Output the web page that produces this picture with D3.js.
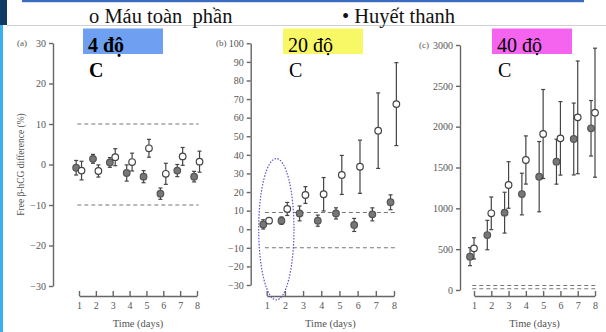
<!DOCTYPE html>
<html>
<head>
<meta charset="utf-8">
<script src="https://cdn.jsdelivr.net/npm/d3@7"></script>
<style>
  html, body { margin: 0; padding: 0; background: #fff; }
  svg { display: block; }
  .serif { font-family: "Liberation Serif", "DejaVu Serif", serif; }
  .tick line, .domain { stroke: #666; stroke-width: 1.4; }
</style>
</head>
<body>
<svg id="chart" width="606" height="332"></svg>
<script>
// Days of storage
const days = [1, 2, 3, 4, 5, 6, 7, 8];

// 4 °C: free β-hCG difference (%)
const serum4 = [-0.8, 1.4, 0.5, -2.1, -3.0, -7.2, -1.5, -3.0];
const serum4Err = [1.8, 1.1, 1.2, 2.0, 1.5, 1.4, 1.5, 1.3];
const whole4 = [-1.5, -1.6, 1.8, 0.6, 4.0, -2.3, 2.0, 0.7];
const whole4Err = [2.3, 1.5, 2.1, 2.2, 2.2, 2.6, 2.2, 2.6];

// 20 °C
const serum20 = [2.6, 4.6, 8.5, 4.6, 8.5, 2.3, 8.0, 14.5];
const serum20Err = [2.5, 2.0, 4.0, 3.0, 3.0, 3.5, 3.5, 4.0];
const whole20 = [4.6, 10.9, 18.4, 18.8, 29.2, 33.6, 53.0, 67.3];
const whole20Err = [1.5, 3.5, 4.5, 9.0, 10.5, 14.3, 20.3, 22.3];

// 40 °C
const serum40 = [408, 673, 947, 1175, 1388, 1571, 1849, 1980];
const serum40Err = [110, 180, 250, 255, 430, 275, 440, 340];
const whole40 = [510, 939, 1286, 1592, 1910, 1857, 2114, 2171];
const whole40Err = [130, 200, 285, 295, 545, 450, 690, 790];

// Axis ticks and reference limits
const ticksA = [-30, -20, -10, 0, 10, 20, 30];
const ticksB = [-30, -20, -10, 0, 10, 20, 30, 40, 50, 60, 70, 80, 90, 100];
const ticksC = [0, 500, 1000, 1500, 2000, 2500, 3000];
const limitsA = [10, -10];
const limitsB = [9, -10];
const limitsC = [55, 15];

const legendWhole = "o Máu toàn  phần";
const legendSerum = "• Huyết thanh";
const tempLabels = ["4 độ", "20 độ", "40 độ"];

const SERIF = "Liberation Serif, DejaVu Serif, serif";
const svg = d3.select("#chart");

// Slide frame
svg.append("rect").attr("x", 0).attr("y", 0).attr("width", 7).attr("height", 25).attr("fill", "#0e3a63");
svg.append("rect").attr("x", 22).attr("y", 0).attr("width", 562).attr("height", 2.2).attr("fill", "#3b6cc0");
svg.append("line").attr("x1", 7).attr("x2", 606).attr("y1", 25.5).attr("y2", 25.5).attr("stroke", "#cfcfcf");
svg.append("rect").attr("x", 0).attr("y", 25).attr("width", 3).attr("height", 307).attr("fill", "#3ab0ee");

// Legend line
svg.append("text").attr("class", "serif").attr("x", 89).attr("y", 23)
  .style("white-space", "pre").attr("font-size", 20.5).attr("fill", "#111").text(legendWhole);
svg.append("text").attr("class", "serif").attr("x", 342).attr("y", 23)
  .attr("font-size", 20.5).attr("fill", "#111").text(legendSerum);

const panels = [
  { tag: "(a)", tagX: 17, x0: 79, x1: 197, yr: [286, 43], dom: [-30, 30], ticks: ticksA, limits: limitsA,
    serum: serum4, serumErr: serum4Err, whole: whole4, wholeErr: whole4Err,
    offS: -0.17, offW: 0.15, box: "#6e9ff0", boxX: 83, label: tempLabels[0], bold: true },
  { tag: "(b)", tagX: 216, x0: 266.7, x1: 394, yr: [285, 43.3], dom: [-30, 100], ticks: ticksB, limits: limitsB,
    serum: serum20, serumErr: serum20Err, whole: whole20, wholeErr: whole20Err,
    offS: -0.19, offW: 0.13, box: "#f8f866", boxX: 283, label: tempLabels[1], bold: false },
  { tag: "(c)", tagX: 419, x0: 474, x1: 595, yr: [290, 45], dom: [0, 3000], ticks: ticksC, limits: limitsC,
    serum: serum40, serumErr: serum40Err, whole: whole40, wholeErr: whole40Err,
    offS: -0.23, offW: 0.0, box: "#f564ef", boxX: 492, label: tempLabels[2], bold: false }
];

const styleAxis = sel => sel.attr("font-family", SERIF).attr("font-size", 10)
  .call(s => s.selectAll(".tick text").attr("fill", "#555"));

panels.forEach((p, i) => {
  const g = svg.append("g");
  const x = d3.scaleLinear().domain([1, 8]).range([p.x0, p.x1]);
  const y = d3.scaleLinear().domain(p.dom).range(p.yr);
  const yAxisX = p.x0 - (i === 0 ? 26 : i === 1 ? 16 : 14);

  // y axis
  g.append("g").attr("transform", `translate(${yAxisX},0)`)
    .call(d3.axisLeft(y).tickValues(p.ticks).tickFormat(d3.format("d"))
      .tickSize(4).tickSizeOuter(0).tickPadding(3))
    .call(styleAxis);

  // x axis with ticks pointing up
  g.append("g").attr("transform", "translate(0,296)")
    .call(d3.axisBottom(x).tickValues(days).tickFormat(d3.format("d"))
      .tickSize(-5).tickSizeOuter(0).tickPadding(6))
    .call(styleAxis);

  g.append("text").attr("x", (p.x0 + p.x1) / 2).attr("y", 327)
    .attr("font-family", SERIF)
    .attr("text-anchor", "middle").attr("font-size", 10.5).attr("fill", "#555").text("Time (days)");

  g.append("text").attr("x", p.tagX).attr("y", y(p.dom[1]) + 3)
    .attr("font-family", SERIF)
    .attr("font-size", 9).attr("fill", "#555").text(p.tag);

  // reference limits
  g.selectAll(".lim").data(p.limits).join("line")
    .attr("x1", x(0.9)).attr("x2", x(8.1))
    .attr("y1", d => y(d)).attr("y2", d => y(d))
    .attr("stroke", "#777").attr("stroke-width", 1.1).attr("stroke-dasharray", "4,3");

  const drawSeries = (vals, errs, off, open) => {
    const pts = days.map((d, k) => ({ d, v: vals[k], e: errs[k] }));
    const cx = d => x(d.d + off);
    g.selectAll(null).data(pts).join("line")
      .attr("x1", cx).attr("x2", cx)
      .attr("y1", d => y(d.v - d.e)).attr("y2", d => y(d.v + d.e))
      .attr("stroke", "#444").attr("stroke-width", 1.2);
    [-1, 1].forEach(s => {
      g.selectAll(null).data(pts).join("line")
        .attr("x1", d => cx(d) - 2).attr("x2", d => cx(d) + 2)
        .attr("y1", d => y(d.v + s * d.e)).attr("y2", d => y(d.v + s * d.e))
        .attr("stroke", "#444").attr("stroke-width", 1.2);
    });
    g.selectAll(null).data(pts).join("circle")
      .attr("cx", cx).attr("cy", d => y(d.v)).attr("r", 3.3)
      .attr("fill", open ? "#fff" : "#777")
      .attr("stroke", open ? "#444" : "#555").attr("stroke-width", 1.2);
  };
  drawSeries(p.serum, p.serumErr, p.offS, false);
  drawSeries(p.whole, p.wholeErr, p.offW, true);

  // temperature tag
  svg.append("rect").attr("x", p.boxX).attr("y", 28.5).attr("width", 80).attr("height", 25.5).attr("fill", p.box);
  svg.append("text").attr("class", "serif").attr("x", p.boxX + 5).attr("y", 52)
    .attr("font-size", 20).attr("font-weight", p.bold ? "bold" : "normal").attr("fill", "#000").text(p.label);
  svg.append("text").attr("class", "serif").attr("x", p.boxX + 6).attr("y", 77)
    .attr("font-size", 20).attr("font-weight", p.bold ? "bold" : "normal").attr("fill", "#000").text("C");

  if (i === 0) {
    svg.append("text").attr("font-family", SERIF)
      .attr("transform", `translate(24,${y(0)}) rotate(-90)`)
      .attr("text-anchor", "middle").attr("font-size", 9.5).attr("fill", "#555")
      .text("Free β-hCG difference (%)");
  }
  if (i === 1) {
    // highlight of the first two days
    svg.append("ellipse").attr("cx", x(1.53)).attr("cy", y(0))
      .attr("rx", x(2.5) - x(1.53)).attr("ry", y(-38) - y(0))
      .attr("fill", "none").attr("stroke", "#5a55c8").attr("stroke-width", 1.2)
      .attr("stroke-dasharray", "1.5,1.5");
  }
});
</script>
</body>
</html>
